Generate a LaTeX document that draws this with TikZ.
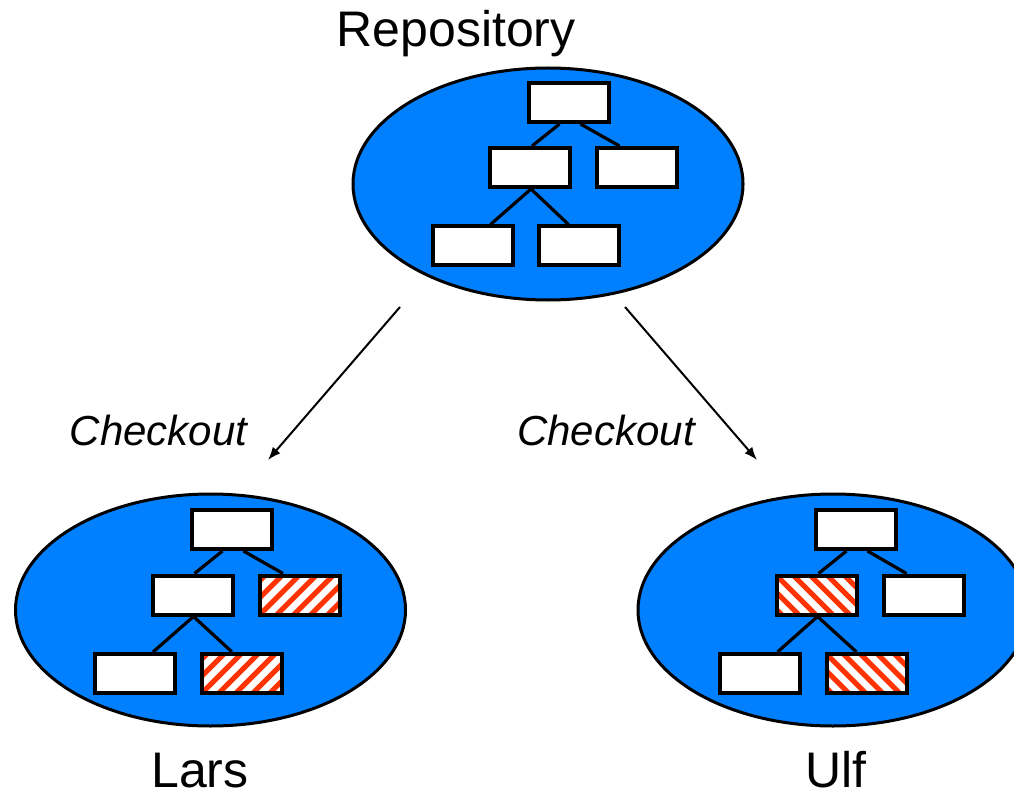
\documentclass[tikz,border=0pt]{standalone}
\usepackage{fontspec}
\setmainfont{Liberation Sans}
\usetikzlibrary{shapes.geometric,arrows.meta}
\definecolor{repoblue}{RGB}{0,128,255}
\definecolor{stripered}{RGB}{255,51,0}
\begin{document}
\begin{tikzpicture}[x=1pt,y=-1pt,
  area/.style={ellipse, draw=black, line width=3pt, fill=repoblue, minimum width=390pt, minimum height=232pt, inner sep=0pt},
  file/.style={rectangle, draw=black, line width=4pt, fill=white, minimum width=80pt, minimum height=39pt, inner sep=0pt},
  hatchR/.style={file, path picture={\foreach \i in {-4,...,7}{\draw[stripered, line width=5pt] ([xshift=\i*17pt]path picture bounding box.south west) -- ++(60,-60);}}},
  hatchL/.style={file, path picture={\foreach \i in {-4,...,7}{\draw[stripered, line width=5pt] ([xshift=\i*17pt]path picture bounding box.north west) -- ++(60,60);}}},
  link/.style={line width=3.2pt},
  flow/.style={line width=2pt, -{Latex[length=13pt,width=10pt]}},
  big/.style={font=\fontsize{50}{58}\selectfont, inner sep=0pt, anchor=base, text depth=0pt},
  lab/.style={font=\fontsize{42}{50}\selectfont\itshape, inner sep=0pt, anchor=base}
]
\clip (0,0) rectangle (1014,794);

% Repository
\node[area] (repo) at (548,184) {};
\node[file] (r1) at (568.5,102.5) {};
\node[file] (r2) at (530,167.5) {};
\node[file] (r3) at (636.5,167.5) {};
\node[file] (r4) at (472.5,246) {};
\node[file] (r5) at (578.5,246) {};
\draw[link] ([xshift=-9pt]r1.south) -- ([xshift=2pt]r2.north);
\draw[link] ([xshift=12pt]r1.south) -- ([xshift=-17pt]r3.north);
\draw[link] ([xshift=1pt]r2.south) -- ([xshift=18pt]r4.north);
\draw[link] ([xshift=1pt]r2.south) -- ([xshift=-10pt]r5.north);
\node[big] (repotxt) at (456,47) {Repository};

% Lars
\node[area] (lars) at (210.5,610) {};
\node[file] (l1) at (231.5,529.5) {};
\node[file] (l2) at (192.5,595) {};
\node[hatchR] (l3) at (300,595) {};
\node[file] (l4) at (135,673.5) {};
\node[hatchR] (l5) at (242,673.5) {};
\draw[link] ([xshift=-9pt]l1.south) -- ([xshift=2pt]l2.north);
\draw[link] ([xshift=12pt]l1.south) -- ([xshift=-17pt]l3.north);
\draw[link] ([xshift=1pt]l2.south) -- ([xshift=18pt]l4.north);
\draw[link] ([xshift=1pt]l2.south) -- ([xshift=-10pt]l5.north);
\node[big] (larstxt) at (200,787) {Lars};

% Ulf
\node[area] (ulf) at (833,610) {};
\node[file] (u1) at (855.5,529.5) {};
\node[hatchL] (u2) at (816.5,595) {};
\node[file] (u3) at (923.5,595) {};
\node[file] (u4) at (759.5,673.5) {};
\node[hatchL] (u5) at (866.5,673.5) {};
\draw[link] ([xshift=-9pt]u1.south) -- ([xshift=2pt]u2.north);
\draw[link] ([xshift=12pt]u1.south) -- ([xshift=-17pt]u3.north);
\draw[link] ([xshift=1pt]u2.south) -- ([xshift=18pt]u4.north);
\draw[link] ([xshift=1pt]u2.south) -- ([xshift=-10pt]u5.north);
\node[big] (ulftxt) at (836,787) {Ulf};

% Checkout arrows
\coordinate (a1s) at (400,307);
\coordinate (a1e) at (268,460);
\coordinate (a2s) at (625,307);
\coordinate (a2e) at (757,460);
\draw[flow] (a1s) -- (a1e);
\draw[flow] (a2s) -- (a2e);
\node[lab] (co1) at (158.5,445) {Checkout};
\node[lab] (co2) at (606,445) {Checkout};
\end{tikzpicture}
\end{document}
